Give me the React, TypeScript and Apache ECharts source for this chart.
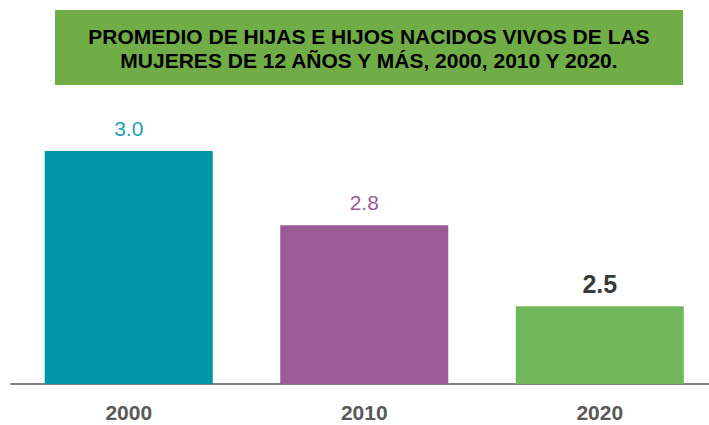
import React, { useEffect, useRef } from "react";
import * as echarts from "echarts";

const categories = ["2000", "2010", "2020"];
// Estimated unrounded values (labels show them to one decimal: 3.0, 2.8, 2.5)
const values = [2.98, 2.77, 2.54];
const barColors = ["#0096A9", "#9A5B96", "#70B65A"];
const labelColors = ["#1FA2B5", "#9A5B96", "#3A3A3A"];
const titleLines = [
  "PROMEDIO DE HIJAS E HIJOS NACIDOS VIVOS DE LAS",
  "MUJERES DE 12 AÑOS Y MÁS, 2000, 2010 Y 2020.",
];

export default function App() {
  const ref = useRef<HTMLDivElement>(null);
  useEffect(() => {
    if (!ref.current) return;
    const chart = echarts.init(ref.current, null, { renderer: "svg" });
    const font = "'Liberation Sans', Arial, sans-serif";
    chart.setOption({
      animation: false,
      backgroundColor: "#ffffff",
      graphic: [
        {
          type: "rect",
          shape: { x: 55, y: 10, width: 628, height: 75 },
          style: { fill: "#70AD47" },
        },
        {
          type: "text",
          x: 369,
          y: 48,
          style: {
            text: titleLines.join("\n"),
            fill: "#000000",
            font: `bold 21px ${font}`,
            align: "center",
            verticalAlign: "middle",
            lineHeight: 24,
          },
        },
      ],
      grid: { left: 11, right: 2.5, top: 151, bottom: 41, containLabel: false },
      xAxis: {
        type: "category",
        data: categories,
        axisTick: { show: false },
        axisLine: { lineStyle: { color: "#7F7F7F", width: 2 } },
        axisLabel: {
          color: "#595959",
          fontFamily: font,
          fontWeight: "bold",
          fontSize: 21,
          margin: 18,
        },
      },
      yAxis: {
        type: "value",
        min: 2.32,
        max: 2.98,
        show: false,
        splitLine: { show: false },
      },
      series: [
        {
          type: "bar",
          barWidth: 168,
          data: values.map((v, i) => ({
            value: v,
            itemStyle: { color: barColors[i] },
            label: {
              show: true,
              position: "top",
              distance: i === 2 ? 10 : 12,
              formatter: (p: any) => Number(p.value).toFixed(1),
              color: labelColors[i],
              fontFamily: font,
              fontSize: i === 2 ? 25 : 21,
              fontWeight: i === 2 ? "bold" : "normal",
            },
          })),
        },
      ],
    });
    return () => chart.dispose();
  }, []);
  return (
    <div style={{ width: 709, height: 425, position: "absolute", left: 0, top: 0, overflow: "hidden" }}>
      <div ref={ref} style={{ width: 720, height: 425 }} />
    </div>
  );
}
